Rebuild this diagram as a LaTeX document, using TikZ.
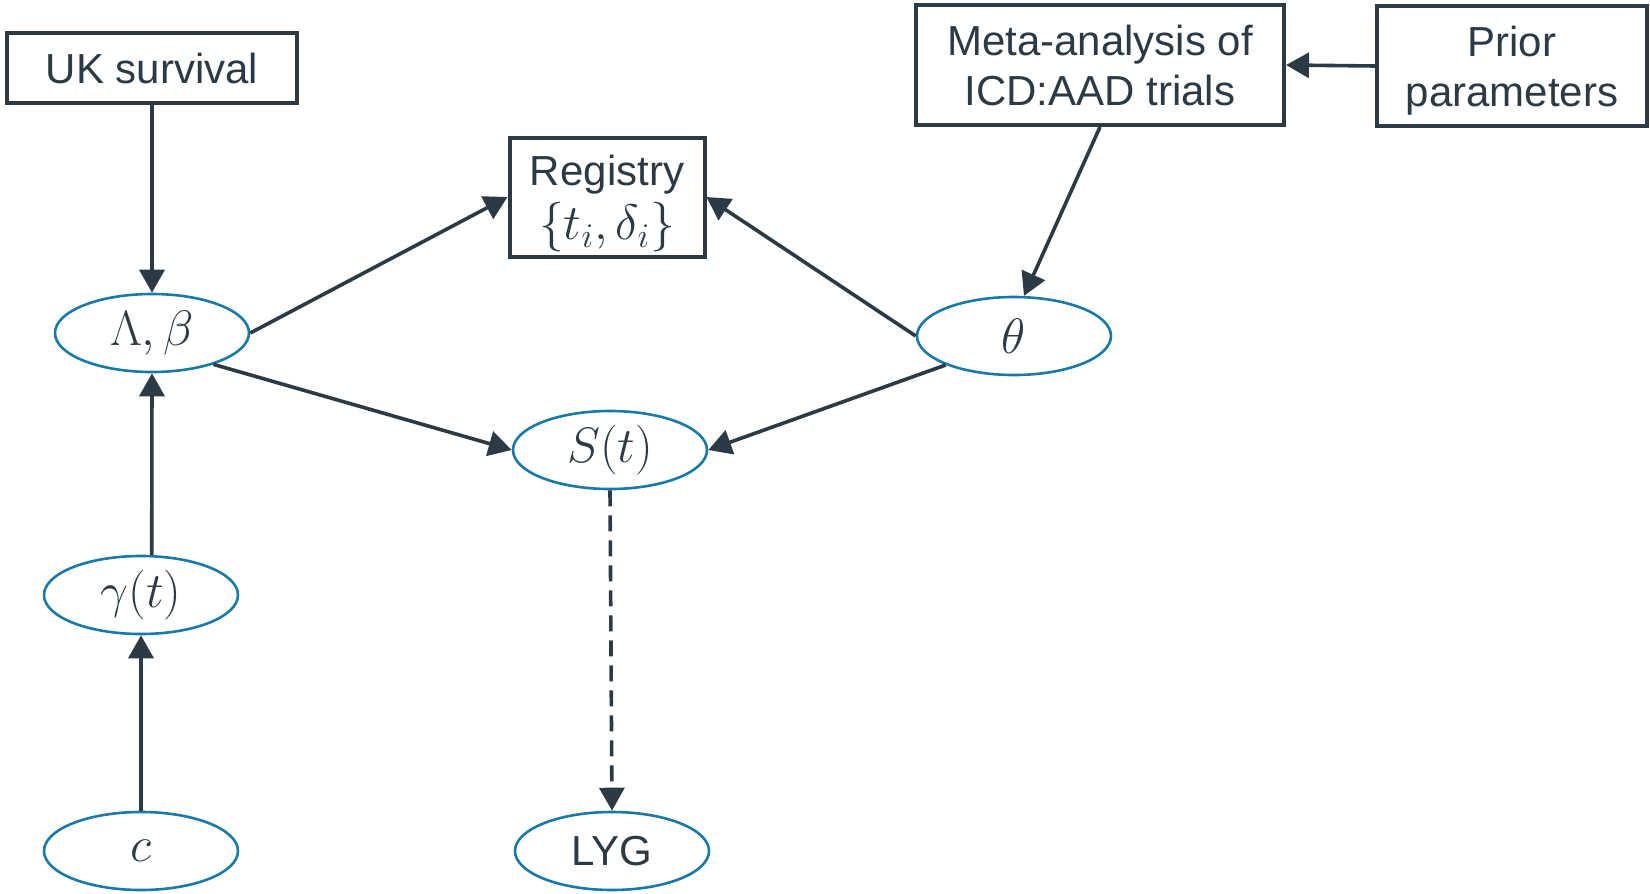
\documentclass[tikz,border=0pt]{standalone}
\usepackage[no-math]{fontspec}
\setmainfont{Liberation Sans}
\usetikzlibrary{shapes.geometric,arrows.meta}
\definecolor{ink}{RGB}{43,58,68}
\definecolor{rim}{RGB}{24,122,168}
\newcommand{\mathsize}{\fontsize{24pt}{28pt}\selectfont}
\begin{document}
\begin{tikzpicture}[x=0.5pt,y=-0.5pt,
  every node/.style={text=ink,font=\fontsize{21pt}{25pt}\selectfont,inner sep=0pt},
  databox/.style={draw=ink,line width=2pt,rectangle,align=center},
  param/.style={draw=rim,line width=1.3pt,ellipse,minimum width=97pt,minimum height=39pt},
  link/.style={draw=ink,line width=1.8pt,-{Triangle[length=11.5pt,width=12.5pt]}},
  implied/.style={link,dash pattern=on 8pt off 4.5pt}]
\useasboundingbox (0,0) rectangle (1650,894);

% data sources
\node[databox,minimum width=145pt,minimum height=35pt] (uk) at (152,68) {UK survival};
\node[databox,minimum width=97.5pt,minimum height=59.5pt] (reg) at (607,197)
  {\rule{0pt}{22pt}Registry\\[2pt] {\mathsize$\{t_i,\delta_i\}$}};
\node[databox,minimum width=184pt,minimum height=60pt] (meta) at (1100,65)
  {Meta-analysis of\\ICD:AAD trials};
\node[databox,minimum width=135pt,minimum height=60pt] (prior) at (1512,66)
  {\rule{0pt}{20pt}Prior\\parameters};

% model quantities
\node[param,font=\mathsize] (lb) at (152,333) {$\Lambda,\beta$};
\node[param,font=\mathsize] (theta) at (1014,336) {$\theta$};
\node[param,font=\mathsize] (st) at (610,450) {$S(t)$};
\node[param,font=\mathsize] (gamma) at (141,595) {$\gamma(t)$};
\node[param,font=\mathsize] (c) at (141,851) {$c$};
\node[param] (lyg) at (612,851) {LYG};

% dependencies
\draw[link] (uk.south) -- (lb.north);
\draw[link] (gamma.75) -- (lb.south);
\draw[link] (c.north) -- (gamma.south);
\draw[link] (lb.east) -- (reg.west);
\draw[link] (theta.west) -- (reg.east);
\draw[link] (lb.-27) -- (st.west);
\draw[link] (theta.203) -- (st.east);
\draw[link] (prior.west) -- (meta.east);
\draw[link] (meta.south) -- (theta.76);
\draw[implied] (st.south) -- (lyg.north);
\end{tikzpicture}
\end{document}
